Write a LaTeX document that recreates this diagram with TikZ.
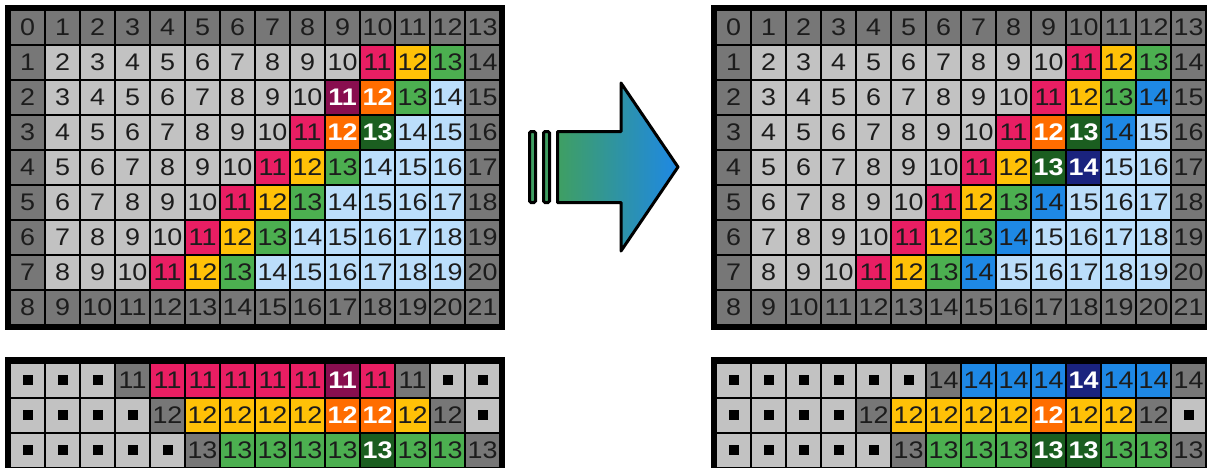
\documentclass[tikz,border=0pt]{standalone}
\usepackage{fontspec}
\setmainfont{Liberation Sans}[FakeStretch=1.12]
\usepackage{xcolor}
\usepackage{tikz}
\usetikzlibrary{fit,backgrounds}

\definecolor{rimgray}{HTML}{777777}
\definecolor{dimgray}{HTML}{C2C2C2}
\definecolor{pinkc}{HTML}{E91E63}
\definecolor{amberc}{HTML}{FFC107}
\definecolor{greenc}{HTML}{4CAF50}
\definecolor{skyc}{HTML}{BBDEFB}
\definecolor{bluec}{HTML}{1E88E5}
\definecolor{plumc}{HTML}{880E4F}
\definecolor{flamec}{HTML}{FF6D00}
\definecolor{forestc}{HTML}{1B5E20}
\definecolor{navyc}{HTML}{1A237E}
\definecolor{shaftgreen}{HTML}{3F9F62}
\definecolor{inkc}{HTML}{1C1C1C}
\def\sqcode{sq}

\begin{document}
\begin{tikzpicture}[
  x=1pt,y=-1pt,
  cell/.style={rectangle,minimum size=33pt,inner sep=0pt,text=inkc,
    font=\fontsize{24}{24}\selectfont},
  hot/.style={text=white,font=\fontsize{24}{24}\selectfont\bfseries},
  rim/.style={fill=rimgray},
  dim/.style={fill=dimgray},
  pk/.style={fill=pinkc},
  am/.style={fill=amberc},
  gr/.style={fill=greenc},
  sky/.style={fill=skyc},
  bl/.style={fill=bluec},
  hp/.style={fill=plumc,hot},
  ho/.style={fill=flamec,hot},
  hf/.style={fill=forestc,hot},
  hn/.style={fill=navyc,hot},
  sq/.style={fill=dimgray,path picture={
    \fill[black] (path picture bounding box.center) +(-5,-5) rectangle +(5,5);}},
  rimframe/.style={fill=black,inner sep=6pt},
  % highlighted cells of the two grids
  L2-9/.style={hp}, L2-10/.style={ho}, L3-9/.style={ho}, L3-10/.style={hf},
  R3-9/.style={ho}, R3-10/.style={hf}, R4-9/.style={hf}, R4-10/.style={hn}
]
\useasboundingbox (0,0) rectangle (1207,467);

% the two grids, value = row + column
\foreach \g/\x/\b in {L/27.5/0,R/733.5/1}{
  \foreach \r in {0,...,8}{
    \foreach \c in {0,...,13}{
      \pgfmathtruncatemacro\v{\r+\c}
      \pgfmathtruncatemacro\k{(\r==0||\r==8||\c==0||\c==13) ? 0 :
        (\v<11 ? 1 : (\v>13 ? ((\v==14 && \b==1) ? 6 : 5) : \v-9))}
      \edef\st{\ifcase\k rim\or dim\or pk\or am\or gr\or sky\or bl\fi}
      \node[cell,\st,\g\r-\c/.try] (\g-\r-\c) at ({\x+35*\c},{27.5+35*\r}) {\v};
    }
  }
}

% the strips below
\foreach \g/\x/\r/\val/\codes in {
  a/27.5/0/11/{sq,sq,sq,rim,pk,pk,pk,pk,pk,hp,pk,rim,sq,sq},
  a/27.5/1/12/{sq,sq,sq,sq,rim,am,am,am,am,ho,ho,am,rim,sq},
  a/27.5/2/13/{sq,sq,sq,sq,sq,rim,gr,gr,gr,gr,hf,gr,gr,rim},
  b/733.5/0/14/{sq,sq,sq,sq,sq,sq,rim,bl,bl,bl,hn,bl,bl,rim},
  b/733.5/1/12/{sq,sq,sq,sq,rim,am,am,am,am,ho,am,am,rim,sq},
  b/733.5/2/13/{sq,sq,sq,sq,sq,rim,gr,gr,gr,hf,hf,gr,gr,rim}}{
  \foreach \t [count=\c from 0] in \codes {
    \ifx\t\sqcode
      \node[cell,sq] (\g-\r-\c) at ({\x+35*\c},{380+35*\r}) {};
    \else
      \node[cell,\t] (\g-\r-\c) at ({\x+35*\c},{380+35*\r}) {\val};
    \fi
  }
}

\begin{scope}[on background layer]
  \node[rimframe,fit=(L-0-0)(L-8-13)] (Lbox) {};
  \node[rimframe,fit=(R-0-0)(R-8-13)] (Rbox) {};
  \node[rimframe,fit=(a-0-0)(a-2-13)] (abox) {};
  \node[rimframe,fit=(b-0-0)(b-2-13)] (bbox) {};
\end{scope}

% arrow
\foreach \bx in {529.5,543.5}
  \draw[line width=3pt,rounded corners=1.5pt,fill=shaftgreen] (\bx,131.5) rectangle ++(6,71);
\draw[line width=3pt,line join=round,left color=shaftgreen,right color=bluec]
  (557.5,131.5) -- (621,131.5) -- (621,83) -- (678,167) -- (621,251)
  -- (621,202.5) -- (557.5,202.5) -- cycle;
\end{tikzpicture}
\end{document}
